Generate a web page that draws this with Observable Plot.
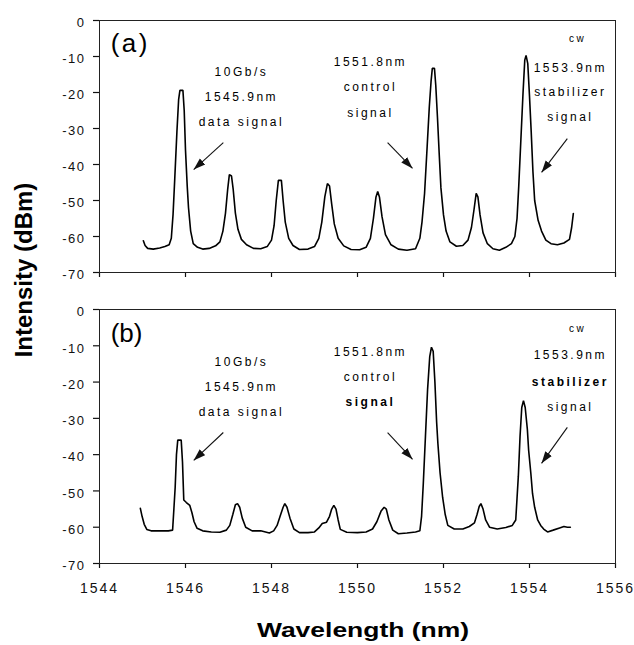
<!DOCTYPE html>
<html>
<head>
<meta charset="utf-8">
<script src="https://cdn.jsdelivr.net/npm/d3@7"></script>
<script src="https://cdn.jsdelivr.net/npm/@observablehq/plot@0.6"></script>
<style>
  html, body { margin: 0; padding: 0; background: #fff; }
  #wrap { position: relative; width: 634px; height: 645px; overflow: hidden; font-family: "Liberation Sans", Arial, sans-serif; }
  .panel { position: absolute; left: 0; width: 634px; }
  .panel svg { display: block; }
  #ylab { position: absolute; left: 23.5px; top: 270px; transform: translate(-50%, -50%) rotate(-90deg);
          white-space: nowrap; font-weight: bold; font-size: 24px; line-height: 24px; color: #000; }
  #xlab { position: absolute; left: 363px; top: 619px; transform: translateX(-50%) scaleX(1.26);
          white-space: nowrap; font-weight: bold; font-size: 21px; line-height: 21px; color: #000; }
</style>
</head>
<body>
<div id="wrap">
  <div class="panel" id="pa" style="top:0px"></div>
  <div class="panel" id="pb" style="top:290px"></div>
  <div id="ylab">Intensity (dBm)</div>
  <div id="xlab">Wavelength (nm)</div>
</div>
<script>
// ---------- data ----------
const xTicks = [1544, 1546, 1548, 1550, 1552, 1554, 1556];
const yTicks = [0, -10, -20, -30, -40, -50, -60, -70];

// Panel (a) spectrum
const wavelengthA = [1545.02,1545.06,1545.12,1545.25,1545.4,1545.52,1545.62,1545.67,1545.71,1545.75,1545.8,1545.84,1545.87,1545.94,1545.97,1546.0,1546.04,1546.07,1546.12,1546.18,1546.28,1546.4,1546.55,1546.7,1546.8,1546.87,1546.93,1546.98,1547.02,1547.07,1547.11,1547.16,1547.22,1547.3,1547.42,1547.58,1547.75,1547.9,1548.0,1548.06,1548.11,1548.16,1548.23,1548.27,1548.32,1548.4,1548.5,1548.65,1548.85,1549.0,1549.1,1549.17,1549.24,1549.3,1549.35,1549.4,1549.46,1549.55,1549.68,1549.85,1550.05,1550.2,1550.3,1550.37,1550.43,1550.47,1550.51,1550.57,1550.65,1550.78,1550.95,1551.15,1551.35,1551.45,1551.5,1551.56,1551.62,1551.67,1551.71,1551.74,1551.79,1551.82,1551.86,1551.9,1551.94,1552.0,1552.06,1552.15,1552.3,1552.45,1552.57,1552.65,1552.71,1552.76,1552.8,1552.85,1552.92,1553.02,1553.15,1553.3,1553.45,1553.58,1553.66,1553.71,1553.75,1553.8,1553.85,1553.89,1553.92,1553.96,1554.0,1554.04,1554.08,1554.12,1554.2,1554.28,1554.38,1554.5,1554.65,1554.8,1554.93,1554.98,1555.02];
const intensityA = [-61.2,-62.5,-63.3,-63.5,-63.2,-62.8,-62.3,-60.5,-54,-44,-31,-22,-19.4,-19.4,-25,-36,-46,-52,-58.5,-62,-63,-63.5,-63.3,-62.6,-61.5,-58.5,-53.5,-47,-42.8,-43.2,-47,-53.5,-58,-60.8,-62.3,-63.3,-63.4,-62.8,-61,-57,-50,-44.4,-44.4,-50,-56,-60.5,-62.5,-63.6,-63.5,-62.8,-60.5,-56,-49,-45.3,-46,-51,-56.5,-60.5,-62.6,-63.6,-63.7,-63,-60.5,-55,-49,-47.5,-49,-54.5,-59.5,-62.3,-63.5,-63.8,-63.4,-60.5,-56,-48,-35,-24,-17,-13.3,-13.3,-18,-27,-37,-46.5,-54,-58.5,-61.5,-62.7,-62.5,-61,-57.5,-52.5,-48,-49,-54,-59,-62,-63.4,-63.8,-63,-62,-60,-55,-46,-33,-20,-11,-9.7,-12,-21,-31,-42,-50,-55.5,-58.5,-61,-62,-62.3,-61.8,-60.8,-57.5,-53.6];

// Panel (b) spectrum
const wavelengthB = [1544.95,1544.99,1545.04,1545.1,1545.2,1545.4,1545.6,1545.7,1545.73,1545.76,1545.79,1545.82,1545.9,1545.93,1545.96,1546.02,1546.1,1546.15,1546.2,1546.27,1546.4,1546.6,1546.8,1546.95,1547.03,1547.1,1547.16,1547.21,1547.26,1547.32,1547.4,1547.55,1547.75,1547.95,1548.05,1548.13,1548.2,1548.27,1548.31,1548.36,1548.43,1548.52,1548.65,1548.85,1549.0,1549.1,1549.18,1549.28,1549.35,1549.4,1549.45,1549.5,1549.55,1549.6,1549.75,1550.0,1550.2,1550.35,1550.45,1550.55,1550.62,1550.67,1550.73,1550.82,1550.95,1551.15,1551.35,1551.45,1551.49,1551.53,1551.58,1551.63,1551.68,1551.72,1551.76,1551.8,1551.84,1551.87,1551.92,1551.98,1552.04,1552.1,1552.25,1552.45,1552.6,1552.72,1552.78,1552.83,1552.87,1552.92,1552.98,1553.07,1553.25,1553.45,1553.6,1553.68,1553.71,1553.74,1553.78,1553.82,1553.86,1553.9,1553.95,1553.98,1554.03,1554.07,1554.12,1554.19,1554.26,1554.33,1554.42,1554.55,1554.7,1554.8,1554.88,1554.95];
const intensityB = [-54.8,-57,-59.2,-60.6,-61,-61,-61,-60.8,-55,-49,-40,-36,-36,-42,-52.5,-53.2,-54,-56,-58.5,-60.3,-61,-61.3,-61.4,-60.8,-59.5,-56.5,-53.8,-53.5,-54.5,-57.5,-60,-61,-61,-61.6,-61,-59.5,-57,-54.5,-53.5,-54.5,-57.5,-60.5,-61.5,-61.5,-61.3,-60.2,-59,-58.6,-57,-55,-54,-55,-58,-60.6,-61.4,-61.5,-61.3,-60.5,-58.5,-55.5,-54.5,-55,-58,-60.8,-61.8,-61.6,-61.3,-61,-57,-48,-35,-22,-13,-10.4,-11.5,-20,-31,-37,-45,-51.8,-56.5,-59.5,-60.5,-60.5,-59.8,-58.8,-56.5,-54.3,-53.5,-55,-58,-60,-60.5,-60.1,-59.5,-58,-52,-46,-35,-27,-25.1,-27,-33,-38.8,-45,-50.7,-54.5,-58,-59.5,-60.5,-61.3,-60.8,-60.2,-59.8,-60,-60];

// Annotations
const labelText = ["10Gb/s", "1545.9nm", "data signal", "1551.8nm", "control", "signal", "cw", "1553.9nm", "stabilizer", "signal"];
const labelX = [1547.3, 1547.3, 1547.3, 1550.3, 1550.3, 1550.3, 1555.12, 1554.95, 1554.95, 1554.95];
const labelSize = [12, 12, 12, 12, 12, 12, 10, 12, 12, 12];
const labelYA = [-14.4, -21.4, -28.3, -11.7, -18.6, -25.6, -5.0, -13.1, -20.0, -26.9];
const labelYB = [-14.6, -21.5, -28.4, -11.8, -18.7, -25.6, -5.2, -12.7, -20.1, -27.0];
const labelBoldA = [false, false, false, false, false, false, false, false, false, false];
const labelBoldB = [false, false, false, false, false, true, false, false, true, false];

const arrowX1 = [1546.88, 1550.70, 1554.88];
const arrowX2 = [1546.19, 1551.28, 1554.28];
const arrowY1A = [-33.9, -33.9, -32.8];
const arrowY2A = [-41.4, -41.1, -42.2];
const arrowY1B = [-33.9, -33.9, -32.5];
const arrowY2B = [-41.6, -41.3, -42.4];

const panelTags = ["(a)", "(b)"];
const panelTagX = 1544.26;
const panelTagY = [-6.4, -6.7];

// ---------- drawing ----------
function filledArrow(color) {
  const m = d3.create("svg:marker")
    .attr("viewBox", "-12 -5 12 10")
    .attr("markerWidth", 12)
    .attr("markerHeight", 10)
    .attr("markerUnits", "userSpaceOnUse")
    .attr("refX", 0).attr("refY", 0)
    .attr("orient", "auto");
  m.append("path").attr("d", "M-12,-4L0,0L-12,4Z").attr("fill", color).attr("stroke", "none");
  return m.node();
}

function panel(opts) {
  const trace = opts.xs.map((x, i) => ({x, y: opts.ys[i]}));
  const arrows = arrowX1.map((x1, i) => ({x1, x2: arrowX2[i], y1: opts.ay1[i], y2: opts.ay2[i]}));
  const labels = labelText.map((t, i) => ({t, x: labelX[i], y: opts.ly[i], s: labelSize[i], b: opts.bold[i]}));
  const svg = Plot.plot({
    width: 634,
    height: opts.height,
    marginTop: opts.mt,
    marginLeft: 99,
    marginRight: 19,
    marginBottom: opts.mb,
    style: {fontFamily: "'Liberation Sans', Arial, sans-serif", fontSize: "13px", color: "#111", background: "#fff"},
    x: {domain: [1544, 1556], axis: null},
    y: {domain: [-70, 0], axis: null},
    marks: [
      Plot.axisX({ticks: xTicks, tickSize: 5, tickPadding: 15, tickFormat: opts.xlabels ? (d => String(d)) : (() => ""), label: null, fontSize: 14, stroke: "#111", strokeWidth: 1.2}),
      Plot.axisY({ticks: yTicks, tickSize: 6, tickPadding: 8, tickFormat: d => String(d), label: null, fontSize: 13, stroke: "#111", strokeWidth: 1.2}),
      Plot.frame({stroke: "#222", strokeWidth: 1}),
      Plot.line(trace, {x: "x", y: "y", stroke: "#000", strokeWidth: 1.6, strokeLinejoin: "miter"}),
      Plot.link(arrows, {x1: "x1", y1: "y1", x2: "x2", y2: "y2", stroke: "#111", strokeWidth: 1.1, markerEnd: filledArrow}),
      Plot.text(labels.filter(d => !d.b && d.s === 12), {x: "x", y: "y", text: "t", fontSize: 12, fill: "#000"}),
      Plot.text(labels.filter(d => d.b), {x: "x", y: "y", text: "t", fontSize: 12, fontWeight: "bold", fill: "#000"}),
      Plot.text(labels.filter(d => d.s !== 12), {x: "x", y: "y", text: "t", fontSize: 10, fill: "#000"}),
      Plot.text([opts.tag], {x: panelTagX, y: opts.tagY, text: d => d, textAnchor: "start", fontSize: 26, fill: "#000"})
    ]
  });
  const s = d3.select(svg);
  const textGroups = s.selectAll('g[aria-label="text"]').nodes();
  textGroups.slice(0, 3).forEach(g => d3.select(g).selectAll("text").style("letter-spacing", "2.5px"));
  s.selectAll('g[aria-label="x-axis tick label"] text').style("font-size", "14px").style("letter-spacing", "2px");
  s.selectAll('g[aria-label="y-axis tick label"] text').style("font-size", "13px").style("letter-spacing", "1.5px").attr("dy", "0.2em");
  return svg;
}

document.getElementById("pa").appendChild(panel({
  xs: wavelengthA, ys: intensityA, ay1: arrowY1A, ay2: arrowY2A, ly: labelYA, bold: labelBoldA,
  tag: panelTags[0], tagY: panelTagY[0], xlabels: false, height: 290, mt: 20, mb: 18
}));
document.getElementById("pb").appendChild(panel({
  xs: wavelengthB, ys: intensityB, ay1: arrowY1B, ay2: arrowY2B, ly: labelYB, bold: labelBoldB,
  tag: panelTags[1], tagY: panelTagY[1], xlabels: true, height: 320, mt: 19, mb: 47
}));
</script>
</body>
</html>
